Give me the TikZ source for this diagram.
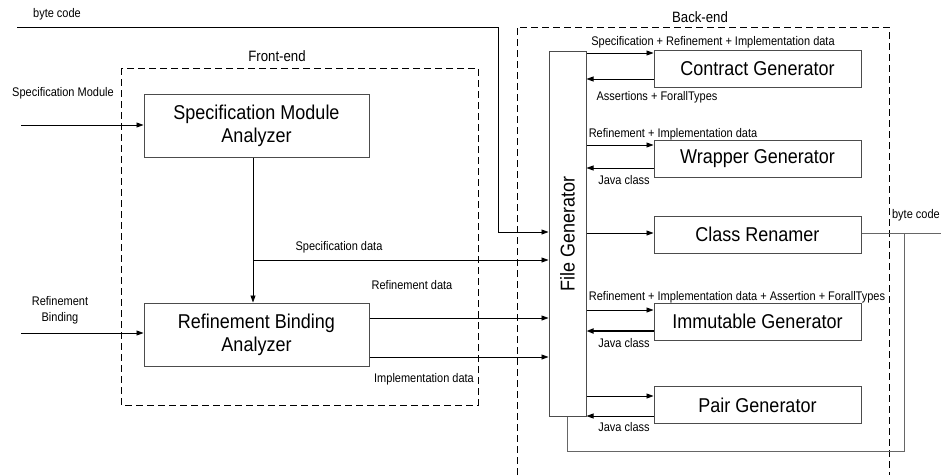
\documentclass[tikz,border=0pt]{standalone}
\usepackage{fontspec}
\usepackage{graphicx}
\setmainfont{Liberation Sans}
\newfontfamily\boxfont{Liberation Sans}[FakeStretch=0.9]
\newfontfamily\lblfont{Liberation Sans}[FakeStretch=0.88]
\usetikzlibrary{arrows.meta}
\begin{document}
\begin{tikzpicture}[x=1pt,y=-1pt,
  blk/.style={draw=black!70, line width=1pt, fill=white, inner sep=0pt, align=center, font=\boxfont\fontsize{20}{23}\selectfont},
  lbl/.style={inner sep=0pt, align=center, font=\lblfont\fontsize{12.5}{16}\selectfont},
  ttl/.style={inner sep=0pt, font=\lblfont\fontsize{15}{18}\selectfont},
  arr/.style={-{Triangle[length=7pt,width=5pt]}, line width=0.8pt},
  ln/.style={line width=0.8pt},
  gln/.style={line width=1pt, draw=black!60},
  grp/.style={dash pattern=on 7pt off 4pt, line width=0.8pt}]
\useasboundingbox (0,0) rectangle (941,475);
% groups
\draw[grp] (121,68) rectangle (478,405);
\draw[grp] (517,475) -- (517,27) -- (889,27) -- (889,475);
\node[ttl] (fe) at (277,56) {Front-end};
\node[ttl] (be) at (700,17) {Back-end};
% blocks
\node[blk, minimum width=225pt, minimum height=63pt] (sma) at (256.5,125.5) {Specification Module\\Analyzer};
\node[blk, minimum width=225pt, minimum height=63pt] (rba) at (256.5,334.5) {Refinement Binding\\Analyzer};
\node[blk, minimum width=37pt, minimum height=365pt] (fg) at (567.5,233.5) {\rotatebox{90}{File Generator}};
\node[blk, minimum width=207pt, minimum height=37pt] (cg) at (757.5,69) {Contract Generator};
\node[blk, minimum width=207pt, minimum height=37pt] (wg) at (757.5,158.5) {Wrapper Generator};
\node[blk, minimum width=207pt, minimum height=37pt] (cr) at (757.5,234.5) {Class Renamer};
\node[blk, minimum width=207pt, minimum height=37pt] (ig) at (757.5,321.5) {Immutable Generator};
\node[blk, minimum width=207pt, minimum height=37pt] (pg) at (757.5,405) {Pair Generator};
% coordinates
\coordinate (bc0) at (17,27);
\coordinate (bcturn) at (498,232);
\coordinate (smin) at (21,125);
\coordinate (rbin) at (21,333);
\coordinate (sx) at (253,0);
\coordinate (sd) at (253,260);
\coordinate (rd) at (0,318);
\coordinate (id) at (0,357);
\coordinate (c1) at (0,53);
\coordinate (c2) at (0,79);
\coordinate (w1) at (0,145);
\coordinate (w2) at (0,168);
\coordinate (r1) at (0,233);
\coordinate (i1) at (0,310);
\coordinate (i2) at (0,331);
\coordinate (p1) at (0,396);
\coordinate (p2) at (0,416);
\coordinate (bcout) at (941,233);
\coordinate (lp1) at (904,233);
\coordinate (lp2) at (904,451);
% front-end connectors
\draw[arr] (smin) -- (sma.west |- smin);
\draw[arr] (rbin) -- (rba.west |- rbin);
\draw[arr] (sx |- sma.south) -- (sx |- rba.north);
\draw[arr] (sd) -- (fg.west |- sd);
\draw[arr] (rba.east |- rd) -- (fg.west |- rd);
\draw[arr] (rba.east |- id) -- (fg.west |- id);
\draw[arr] (bc0) -| (bcturn) -- (fg.west |- bcturn);
% back-end connectors
\draw[arr] (fg.east |- c1) -- (cg.west |- c1);
\draw[arr] (cg.west |- c2) -- (fg.east |- c2);
\draw[arr] (fg.east |- w1) -- (wg.west |- w1);
\draw[arr] (wg.west |- w2) -- (fg.east |- w2);
\draw[arr] (fg.east |- r1) -- (cr.west |- r1);
\draw[arr] (fg.east |- i1) -- (ig.west |- i1);
\draw[arr, line width=1.6pt] (ig.west |- i2) -- (fg.east |- i2);
\draw[arr] (fg.east |- p1) -- (pg.west |- p1);
\draw[arr] (pg.west |- p2) -- (fg.east |- p2);
\draw[gln] (cr.east |- bcout) -- (bcout);
\draw[gln] (lp1) -- (lp2) -| (fg.south);
% labels
\node[lbl] (lbc) at (57,14) {byte code};
\node[lbl] (lsm) at (63,93) {Specification Module};
\node[lbl] (lrb) at (60,310) {Refinement\\Binding};
\node[lbl] (lsd) at (339,247) {Specification data};
\node[lbl] (lrd) at (412,285) {Refinement data};
\node[lbl] (lid) at (424,379) {Implementation data};
\node[lbl] (lc1) at (713,42) {Specification + Refinement + Implementation data};
\node[lbl] (lc2) at (657,97) {Assertions + ForallTypes};
\node[lbl] (lw1) at (673,134) {Refinement + Implementation data};
\node[lbl] (lw2) at (624,180) {Java class};
\node[lbl] (li1) at (737,297) {Refinement + Implementation data + Assertion + ForallTypes};
\node[lbl] (li2) at (624,343) {Java class};
\node[lbl] (lp) at (624,427) {Java class};
\node[lbl, anchor=east] (lbo) at (940,215) {byte code};
\end{tikzpicture}
\end{document}
